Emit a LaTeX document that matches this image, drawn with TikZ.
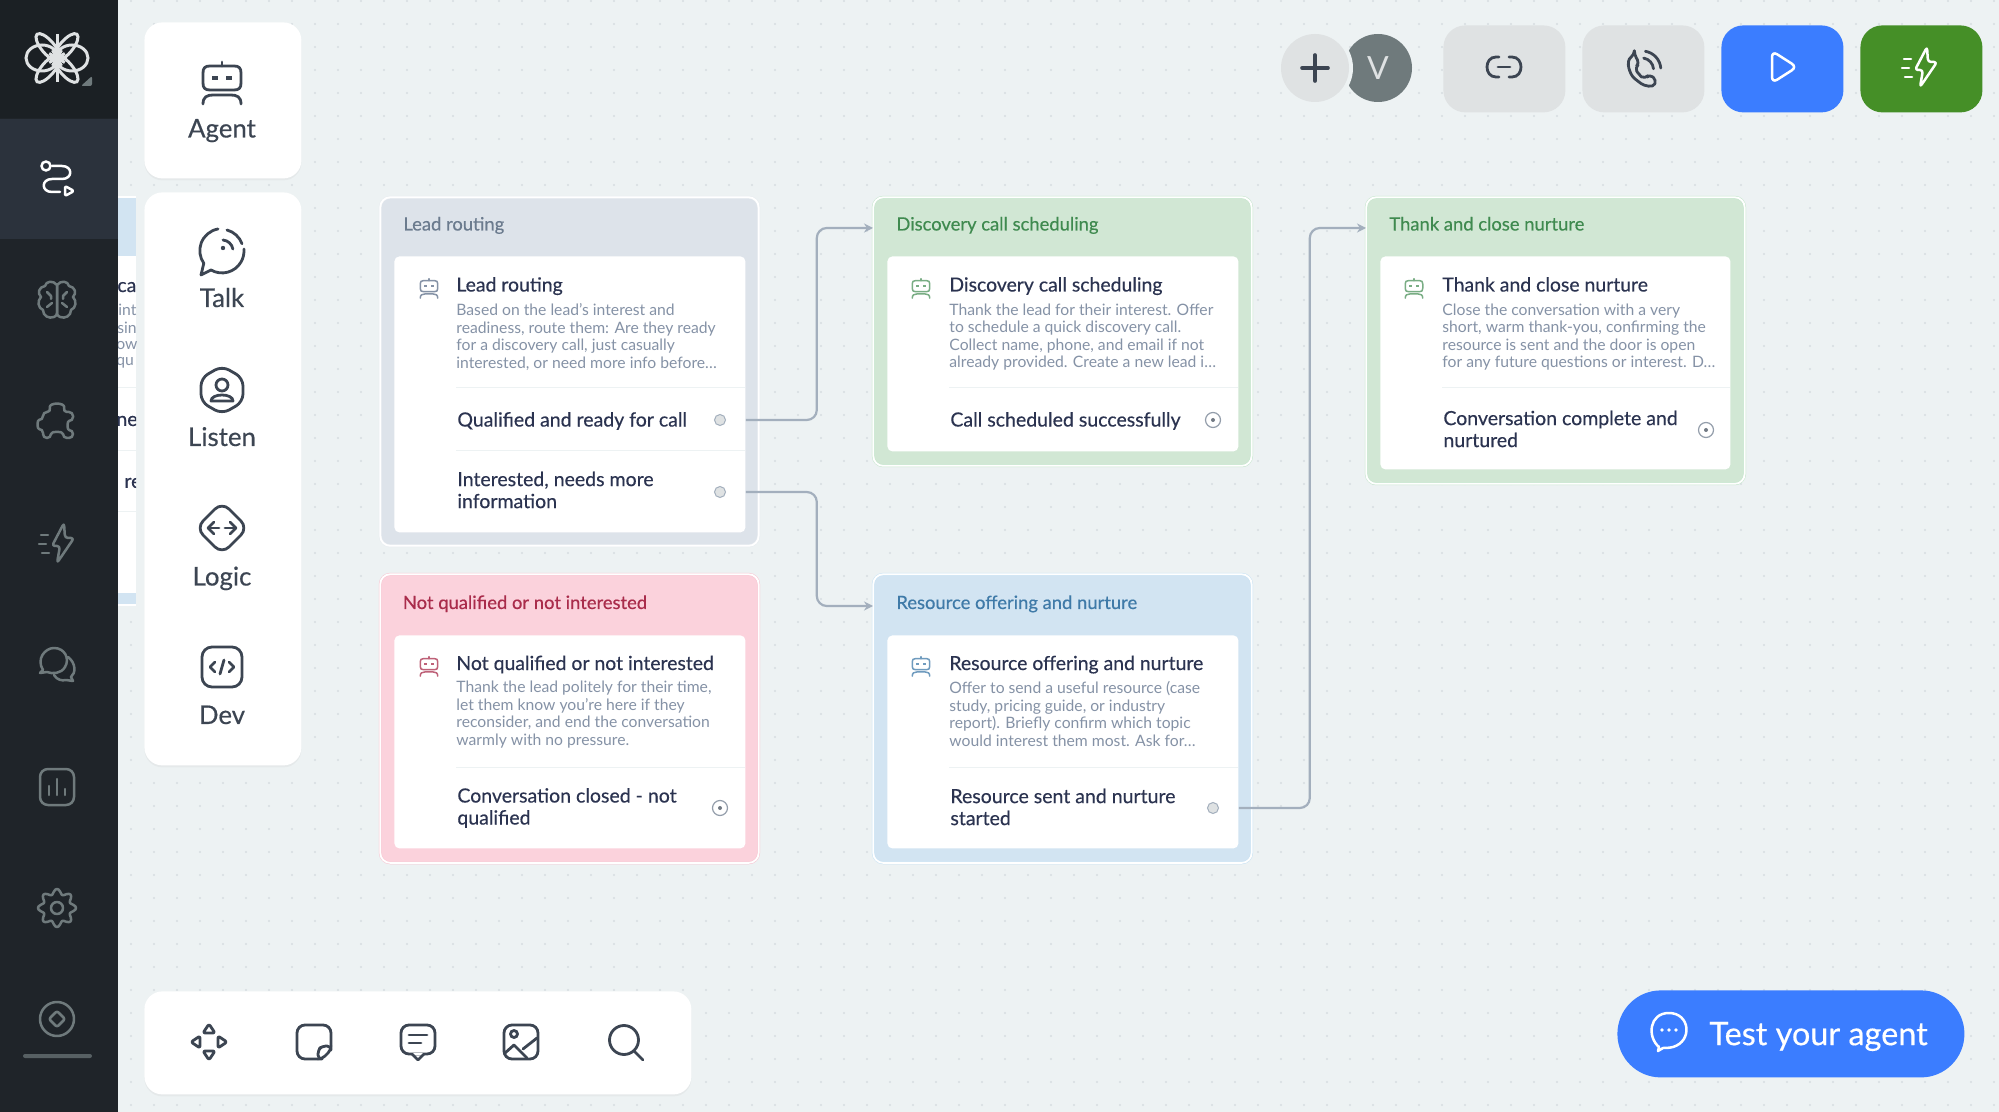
\documentclass[tikz,border=0pt]{standalone}
\usepackage{fontspec}
\setmainfont{Lato}
\newfontfamily\medfont{Lato}[FakeBold=0.4]
\usepackage{xcolor}
\usetikzlibrary{shadows,arrows.meta}

\definecolor{canvas}{HTML}{EDF2F3}
\definecolor{griddot}{HTML}{D6DDE0}
\definecolor{navbar}{HTML}{1F2429}
\definecolor{navtop}{HTML}{1B2024}
\definecolor{navactive}{HTML}{2B323C}
\definecolor{navgrey}{HTML}{6F7A7C}
\definecolor{icondark}{HTML}{3C4552}
\definecolor{titleink}{HTML}{2B3350}
\definecolor{descink}{HTML}{8592A6}
\definecolor{linkgrey}{HTML}{A3AFBD}
\definecolor{leadfill}{HTML}{DDE3EA}
\definecolor{leadedge}{HTML}{E9EDF1}
\definecolor{leadink}{HTML}{6B7B8E}
\definecolor{greenfill}{HTML}{D1E7D4}
\definecolor{greenedge}{HTML}{C6E6CD}
\definecolor{greenink}{HTML}{3F8A4F}
\definecolor{pinkfill}{HTML}{FBD2DC}
\definecolor{pinkedge}{HTML}{F8C6D2}
\definecolor{pinkink}{HTML}{A92C4B}
\definecolor{bluefill}{HTML}{D2E4F2}
\definecolor{blueedge}{HTML}{C9E3F4}
\definecolor{blueink}{HTML}{3F7AA8}
\definecolor{greybutton}{HTML}{DFE2E3}
\definecolor{bluebutton}{HTML}{3B7DFF}
\definecolor{greenbutton}{HTML}{458F27}

\tikzset{
  robot/.pic={
    \draw (-12,-16) -- (12,-16) .. controls (17,-16) and (19,-14) .. (19,-9) -- (19,1) .. controls (19,6) and (17,8) .. (12,8) -- (-12,8) .. controls (-17,8) and (-19,6) .. (-19,1) -- (-19,-9) .. controls (-19,-14) and (-17,-16) .. (-12,-16) -- cycle;
    \draw (0,-16) -- (0,-20);
    \fill (-10,-6) rectangle (-4,-2);
    \fill (4,-6) rectangle (10,-2);
    \draw (-19,22) .. controls (-19,15) and (-15,13) .. (-9,13) -- (9,13) .. controls (15,13) and (19,15) .. (19,22);
  },
  route/.pic={
    \draw (-11,-12) circle[radius=4.5];
    \draw (-5,-12) -- (5,-12) .. controls (16,-12) and (16,1) .. (5,1) -- (-5,1) .. controls (-16,1) and (-16,14) .. (-5,14) -- (3,14);
    \draw[rounded corners=1pt] (8,8) -- (17,13) -- (8,18) -- cycle;
  },
  brain/.pic={
    \foreach \s in {-1,1} {
      \draw[xscale=\s] (0,-15) .. controls (-4,-20) and (-11,-19) .. (-12,-14) .. controls (-18,-13) and (-20,-7) .. (-16,-3) .. controls (-20,1) and (-19,8) .. (-14,10) .. controls (-14,16) and (-8,19) .. (-3,17) .. controls (-1,16) and (0,15) .. (0,13) -- cycle;
      \draw[xscale=\s] (-10,-8) -- (-6,-4) -- (-6,-1);
      \draw[xscale=\s] (-10,7) -- (-5,3);
    }
  },
  puzzle/.pic={
    \draw[rounded corners=2pt] (-14,-9) -- (-6,-9) .. controls (-9,-19) and (9,-19) .. (6,-9) -- (16,-9) -- (16,0) .. controls (10,0) and (10,9) .. (16,9) -- (16,17) -- (6,17) .. controls (6,10) and (-6,10) .. (-6,17) -- (-14,17) -- (-14,8) .. controls (-20,8) and (-20,-1) .. (-14,-1) -- cycle;
  },
  bolt/.pic={
    \draw[rounded corners=1.5pt] (6,-20) -- (-6,3) -- (2,3) -- (-1,20) -- (16,-5) -- (7,-5) -- cycle;
    \draw (-17,-8) -- (-10,-8);
    \draw (-19,1) -- (-12,1);
    \draw (-16,10) -- (-9,10);
  },
  chat/.pic={
    \draw (-14,5) .. controls (-21,-6) and (-12,-17) .. (-3,-17) .. controls (8,-17) and (13,-6) .. (8,2) .. controls (4,9) and (-5,9) .. (-10,7) -- (-17,8) -- cycle;
    \draw (11,-8) .. controls (19,-2) and (19,8) .. (14,12) -- (16,16) -- (9,15) .. controls (5,16) and (0,15) .. (-3,10);
  },
  chart/.pic={
    \draw[rounded corners=4pt] (-17,-18) rectangle (17,18);
    \draw (-8,-1) -- (-8,8);
    \draw (0,-8) -- (0,8);
    \draw (8,2) -- (8,8);
  },
  gear/.pic={
    \draw plot[smooth cycle, samples=64, domain=0:354.375] ({(16.5+2.6*cos(8*\x))*cos(\x)},{(16.5+2.6*cos(8*\x))*sin(\x)});
    \draw (0,0) circle[radius=6];
  },
  gem/.pic={
    \draw (0,0) circle[radius=17];
    \draw[rounded corners=1pt] (0,-8) -- (8,0) -- (0,8) -- (-8,0) -- cycle;
  },
  logo/.pic={
    \foreach \s in {-1,1} {
      \draw[xscale=\s] (15,0) ellipse[x radius=16, y radius=13];
      \draw[xscale=\s, rotate=50] (14,0) ellipse[x radius=17, y radius=6.5];
      \draw[xscale=\s, rotate=-50] (14,0) ellipse[x radius=17, y radius=6.5];
    }
    \draw (0,-24) -- (0,24);
    \foreach \a in {-60,-30,0,30,60,120,150,180,210,240} {\draw (0,0) -- (\a:9);}
  },
  talk/.pic={
    \draw (-4,-22) arc[start angle=-100, end angle=-215, radius=22] -- (-21,24) -- (-11,19) arc[start angle=120, end angle=-5, radius=22];
    \draw (5,-21) arc[start angle=-75, end angle=-20, radius=22];
    \draw (1,-11) arc[start angle=-85, end angle=-10, radius=11];
    \fill (1,-3) circle[radius=2.2];
  },
  listen/.pic={
    \draw[rounded corners=4pt] (0,-24) -- (21,-12) -- (21,12) -- (0,24) -- (-21,12) -- (-21,-12) -- cycle;
    \draw (0,-5) circle[radius=6];
    \draw (-11,11) .. controls (-11,3) and (11,3) .. (11,11) -- cycle;
  },
  logic/.pic={
    \draw[rounded corners=5pt] (0,-26) -- (26,0) -- (0,26) -- (-26,0) -- cycle;
    \foreach \s in {-1,1} {
      \draw[xscale=\s] (-3,0) -- (-14,0);
      \draw[xscale=\s] (-8,-6) -- (-14,0) -- (-8,6);
    }
  },
  devcode/.pic={
    \draw[rounded corners=5pt] (-20,-20) rectangle (20,20);
    \draw (-7,-5) -- (-12,0) -- (-7,5);
    \draw (7,-5) -- (12,0) -- (7,5);
    \draw (2,-7) -- (-2,7);
  },
  movearrows/.pic={
    \foreach \a in {0,90,180,270} {
      \draw[rotate=\a, rounded corners=1pt] (9,-6) -- (18,0) -- (9,6) -- cycle;
    }
  },
  stickynote/.pic={
    \draw[rounded corners=4pt] (17,4) -- (17,-17) -- (-17,-17) -- (-17,17) -- (4,17);
    \draw[rounded corners=2pt] (4,17) -- (4,8) -- (8,4) -- (17,4) -- (17,8) -- (8,17) -- cycle;
  },
  comment/.pic={
    \draw[rounded corners=4pt] (-17,-17) rectangle (17,12);
    \fill[white] (-5,11) rectangle (5,13);
    \draw (-6,12) -- (0,18) -- (6,12);
    \draw (-9,-7) -- (9,-7);
    \draw (-9,1) -- (3,1);
  },
  picture/.pic={
    \draw[rounded corners=4pt] (-17,-17) rectangle (17,17);
    \draw (-7,-8) circle[radius=3.5];
    \draw (-16,11) -- (-7,3) -- (6,16);
    \draw (2,7) -- (16,-4);
  },
  lens/.pic={
    \draw (-2,-2) circle[radius=14.5];
    \draw (8,9) -- (17,18);
  },
  linkicon/.pic={
    \foreach \s in {-1,1} {
      \draw[xscale=\s] (-5,-10) -- (-8,-10) .. controls (-20,-10) and (-20,10) .. (-8,10) -- (-5,10);
    }
    \draw (-6,0) -- (6,0);
  },
  phone/.pic={
    \draw[rounded corners=2pt] (-9,-18) -- (-3,-8) -- (-8,-3) .. controls (-6,2) and (-1,8) .. (4,10) -- (9,5) -- (17,12) .. controls (13,21) and (3,19) .. (-5,13) .. controls (-14,6) and (-20,-10) .. (-9,-18) -- cycle;
    \draw (2,-14) arc[start angle=-80, end angle=-5, radius=14];
    \draw (4,-22) arc[start angle=-80, end angle=-5, radius=22];
  },
  playicon/.pic={
    \draw[rounded corners=3pt] (-11,-16) -- (14,0) -- (-11,16) -- cycle;
  },
  testbubble/.pic={
    \draw (-10,15) .. controls (-22,5) and (-20,-19) .. (0,-19) .. controls (21,-19) and (24,9) .. (4,15) .. controls (0,16) and (-4,16) .. (-6,16) -- (-11,19) -- cycle;
    \foreach \a in {-7,0,7} {\fill (\a,-2) circle[radius=1.8];}
  }
}

\begin{document}
\begin{tikzpicture}[
    x=0.5pt, y=-0.5pt,
    card/.style={rectangle, double=white, double distance=0.9pt, line width=0.25pt, rounded corners=5pt, anchor=north west, minimum width=189.2pt, inner sep=0pt},
    panel/.style={rectangle, fill=white, rounded corners=2.5pt, anchor=north west, minimum width=175.5pt, inner sep=0pt},
    head/.style={anchor=west, inner sep=0pt, text height=7pt, text depth=2pt, font=\medfont\fontsize{9.2}{11}\selectfont},
    heading/.style={anchor=west, inner sep=0pt, text=titleink, text height=7pt, text depth=2pt, font=\medfont\fontsize{9.7}{11}\selectfont},
    desc/.style={anchor=west, inner sep=0pt, align=left, text=descink, font=\fontsize{7.85}{8.75}\selectfont},
    outlabel/.style={anchor=west, inner sep=0pt, align=left, text=titleink, font=\medfont\fontsize{9.75}{11}\selectfont},
    openport/.style={circle, draw=linkgrey, fill=greybutton, line width=0.5pt, minimum size=5.5pt, inner sep=0pt},
    endport/.style={circle, draw=linkgrey!90!black, fill=white, line width=0.6pt, minimum size=7.5pt, inner sep=0pt, path picture={\fill[linkgrey!70!black] (path picture bounding box.center) circle[radius=1pt];}},
    rule/.style={color=canvas, line width=0.5pt},
    arrow/.style={-{Stealth[length=4.5pt,width=4.5pt]}, color=linkgrey, line width=1.1pt, rounded corners=5pt},
    whitebox/.style={rectangle, fill=white, rounded corners=9pt, anchor=north west, inner sep=0pt, drop shadow={opacity=0.07, shadow xshift=0pt, shadow yshift=-1pt}},
    tool/.style={anchor=center, inner sep=0pt, text=icondark, text height=8pt, text depth=2pt, font=\medfont\fontsize{12.9}{14}\selectfont},
    topbutton/.style={rectangle, rounded corners=11pt, anchor=north west, minimum width=61pt, minimum height=43.5pt, inner sep=0pt},
    navico/.style={color=navgrey, line width=1.25pt, line cap=round, line join=round},
    darkico/.style={color=icondark, line width=1.4pt, line cap=round, line join=round},
    lightico/.style={color=white, line width=1.25pt, line cap=round, line join=round},
    nodeico/.style={scale=0.46, line width=0.75pt, line cap=round, line join=round}
]

% canvas and dot grid
\path[use as bounding box, fill=canvas] (0,0) rectangle (1999,1112);
\foreach \i in {5,...,86} {
    \foreach \j in {0,...,48} {
        \fill[griddot] ({16+23*\i},{1+23*\j}) circle[radius=1.1];
    }
}

% card hidden behind the palette
\begin{scope}
\clip (118,195) rectangle (136,607);
\fill[white] (100,196) rectangle (136,606);
\fill[bluefill] (100,198) rectangle (136,256);
\fill[bluefill] (100,593) rectangle (136,604);
\draw[rule] (100,388) -- (136,388);
\draw[rule] (100,451) -- (136,451);
\draw[rule] (100,512) -- (136,512);
\node[heading] (hidden1) at (117,287) {cat};
\node[desc] (hidden2) at (118,310) {int};
\node[desc] (hidden3) at (117,328) {sin};
\node[desc] (hidden4) at (116,346) {ow};
\node[desc] (hidden5) at (116,363) {qu};
\node[outlabel] (hidden6) at (116,421) {ne:};
\node[outlabel] (hidden7) at (124,483) {re};
\end{scope}

% side bar
\fill[navbar] (0,0) rectangle (118,1112);
\fill[navtop] (0,0) rectangle (118,118);
\fill[navactive] (0,119) rectangle (118,239);
\pic[color=greybutton, line width=1.5pt] at (57,58) {logo};
\fill[navgrey, rounded corners=1pt] (92,76) -- (92,86) -- (81,86) -- cycle;
\pic[lightico] at (57,178) {route};
\pic[navico] at (57,300) {brain};
\pic[navico] at (57,421) {puzzle};
\pic[navico] at (58,543) {bolt};
\pic[navico] at (57,665) {chat};
\pic[navico] at (57,787) {chart};
\pic[navico] at (57,908) {gear};
\pic[navico] at (57,1019) {gem};
\fill[navgrey!70!navbar, rounded corners=1pt] (23,1054) rectangle (92,1058);

% palette
\node[whitebox, minimum width=78.5pt, minimum height=78pt] (agentbox) at (144,22) {};
\node[whitebox, minimum width=78.5pt, minimum height=286.5pt] (palette) at (144,192) {};
\pic[darkico] at (222,82) {robot};
\node[tool] (agentlabel) at (222,131.5) {Agent};
\pic[darkico] at (222,251) {talk};
\node[tool] (talklabel) at (222,301) {Talk};
\pic[darkico] at (222,390) {listen};
\node[tool] (listenlabel) at (222,440) {Listen};
\pic[darkico] at (222,528) {logic};
\node[tool] (logiclabel) at (222,579.5) {Logic};
\pic[darkico] at (222,667) {devcode};
\node[tool] (devlabel) at (222,718) {Dev};

% bottom tools
\node[whitebox, minimum width=273.5pt, minimum height=51.5pt] (toolbar) at (144,991) {};
\pic[darkico] at (209,1042) {movearrows};
\pic[darkico] at (314,1042) {stickynote};
\pic[darkico] at (418,1042) {comment};
\pic[darkico] at (521,1042) {picture};
\pic[darkico] at (626,1042) {lens};

% top buttons
\node[circle, fill=navgrey, minimum size=34pt, inner sep=0pt, text=greybutton, font=\fontsize{16}{18}\selectfont] (avatar) at (1378,68) {V};
\node[circle, fill=canvas, minimum size=38pt, inner sep=0pt] (addring) at (1315,68) {};
\node[circle, fill=greybutton, minimum size=34pt, inner sep=0pt] (add) at (1315,68) {};
\draw[darkico, line width=1.8pt] (1302,68) -- (1328,68);
\draw[darkico, line width=1.8pt] (1315,55) -- (1315,81);
\node[topbutton, fill=greybutton] (linkbutton) at (1443,25) {};
\node[topbutton, fill=greybutton] (phonebutton) at (1582,25) {};
\node[topbutton, fill=bluebutton] (playbutton) at (1721,25) {};
\node[topbutton, fill=greenbutton] (boltbutton) at (1860,25) {};
\pic[darkico] at (1504,67) {linkicon};
\pic[darkico, scale=0.85] at (1642,70) {phone};
\pic[lightico] at (1783,67) {playicon};
\pic[lightico] at (1921,67) {bolt};

% test button
\node[rectangle, fill=bluebutton, rounded corners=21.7pt, anchor=north west, minimum width=173.5pt, minimum height=43.5pt, inner sep=0pt] (testbutton) at (1617,990) {};
\pic[lightico] at (1669,1032) {testbubble};
\node[anchor=west, inner sep=0pt, text=white, font=\medfont\fontsize{16.2}{18}\selectfont] (testlabel) at (1709,1036.5) {Test your agent};

% Lead routing
\node[card, draw=leadedge, fill=leadfill, minimum height=174.3pt] (lead) at (380,197) {};
\node[head, text=leadink] (leadhead) at (403,225.5) {Lead routing};
\node[panel, minimum height=138pt] (leadpanel) at (394,256) {};
\pic[nodeico, color=descink] at (429,288) {robot};
\node[heading] (leadtitle) at (456,286.5) {Lead routing};
\node[desc] (leaddesc) at (456,337) {Based on the lead's interest and\\readiness, route them: Are they ready\\for a discovery call, just casually\\interested, or need more info before…};
\draw[rule] (456,388) -- (745,388);
\draw[rule] (456,451) -- (745,451);
\node[outlabel] (leadout1) at (457,421) {Qualified and ready for call};
\node[openport] (qualdot) at (720,420) {};
\node[outlabel] (leadout2) at (457,490) {Interested, needs more\\information};
\node[openport] (infodot) at (720,492) {};

% Discovery call scheduling
\node[card, draw=greenedge, fill=greenfill, minimum height=134.3pt] (disc) at (873,197) {};
\node[head, text=greenink] (dischead) at (896,225.5) {Discovery call scheduling};
\node[panel, minimum height=97.5pt] (discpanel) at (887,256) {};
\pic[nodeico, color=greenink!70!white] at (921,288) {robot};
\node[heading] (disctitle) at (949,286.5) {Discovery call scheduling};
\node[desc] (discdesc) at (949,337) {Thank the lead for their interest. Offer\\to schedule a quick discovery call.\\Collect name, phone, and email if not\\already provided. Create a new lead i…};
\draw[rule] (949,388) -- (1238,388);
\node[outlabel] (discout) at (950,421) {Call scheduled successfully};
\node[endport] (discdot) at (1213,420) {};

% Thank and close nurture
\node[card, draw=greenedge, fill=greenfill, minimum height=143.3pt] (thank) at (1366,197) {};
\node[head, text=greenink] (thankhead) at (1389,225.5) {Thank and close nurture};
\node[panel, minimum width=175pt, minimum height=106.5pt] (thankpanel) at (1380,256) {};
\pic[nodeico, color=greenink!70!white] at (1414,288) {robot};
\node[heading] (thanktitle) at (1442,286.5) {Thank and close nurture};
\node[desc] (thankdesc) at (1442,337) {Close the conversation with a very\\short, warm thank-you, confirming the\\resource is sent and the door is open\\for any future questions or interest. D…};
\draw[rule] (1442,388) -- (1730,388);
\node[outlabel] (thankout) at (1443,429) {Conversation complete and\\nurtured};
\node[endport] (thankdot) at (1706,430) {};

% Not qualified or not interested
\node[card, draw=pinkedge, fill=pinkfill, minimum height=144.3pt] (notq) at (380,574) {};
\node[head, text=pinkink] (notqhead) at (402.5,604) {Not qualified or not interested};
\node[panel, minimum height=106.5pt] (notqpanel) at (394,635) {};
\pic[nodeico, color=pinkink!75!white] at (429,666) {robot};
\node[heading] (notqtitle) at (456,665) {Not qualified or not interested};
\node[desc] (notqdesc) at (456,714.5) {Thank the lead politely for their time,\\let them know you're here if they\\reconsider, and end the conversation\\warmly with no pressure.};
\draw[rule] (456,767) -- (745,767);
\node[outlabel] (notqout) at (457,808) {Conversation closed - not\\qualified};
\node[endport] (notqdot) at (720,808) {};

% Resource offering and nurture
\node[card, draw=blueedge, fill=bluefill, minimum height=144.3pt] (res) at (873,574) {};
\node[head, text=blueink] (reshead) at (896,604) {Resource offering and nurture};
\node[panel, minimum height=106.5pt] (respanel) at (887,635) {};
\pic[nodeico, color=blueink!75!white] at (921,666) {robot};
\node[heading] (restitle) at (949,665) {Resource offering and nurture};
\node[desc] (resdesc) at (949,714) {Offer to send a useful resource (case\\study, pricing guide, or industry\\report). Briefly confirm which topic\\would interest them most. Ask for…};
\draw[rule] (949,767) -- (1238,767);
\node[outlabel] (resout) at (950,807) {Resource sent and nurture\\started};
\node[openport] (resdot) at (1213,808) {};

% connectors
\coordinate (qualout) at (leadpanel.east |- qualdot);
\coordinate (infoout) at (leadpanel.east |- infodot);
\coordinate (sentout) at (respanel.east |- resdot);
\coordinate (discin) at (873,228);
\coordinate (resin) at (873,606);
\coordinate (thankin) at (1366,228);
\draw[arrow] (qualout) -- ++(71,0) |- (discin);
\draw[arrow] (infoout) -- ++(71,0) |- (resin);
\draw[arrow] (sentout) -- ++(71,0) |- (thankin);

\end{tikzpicture}
\end{document}
